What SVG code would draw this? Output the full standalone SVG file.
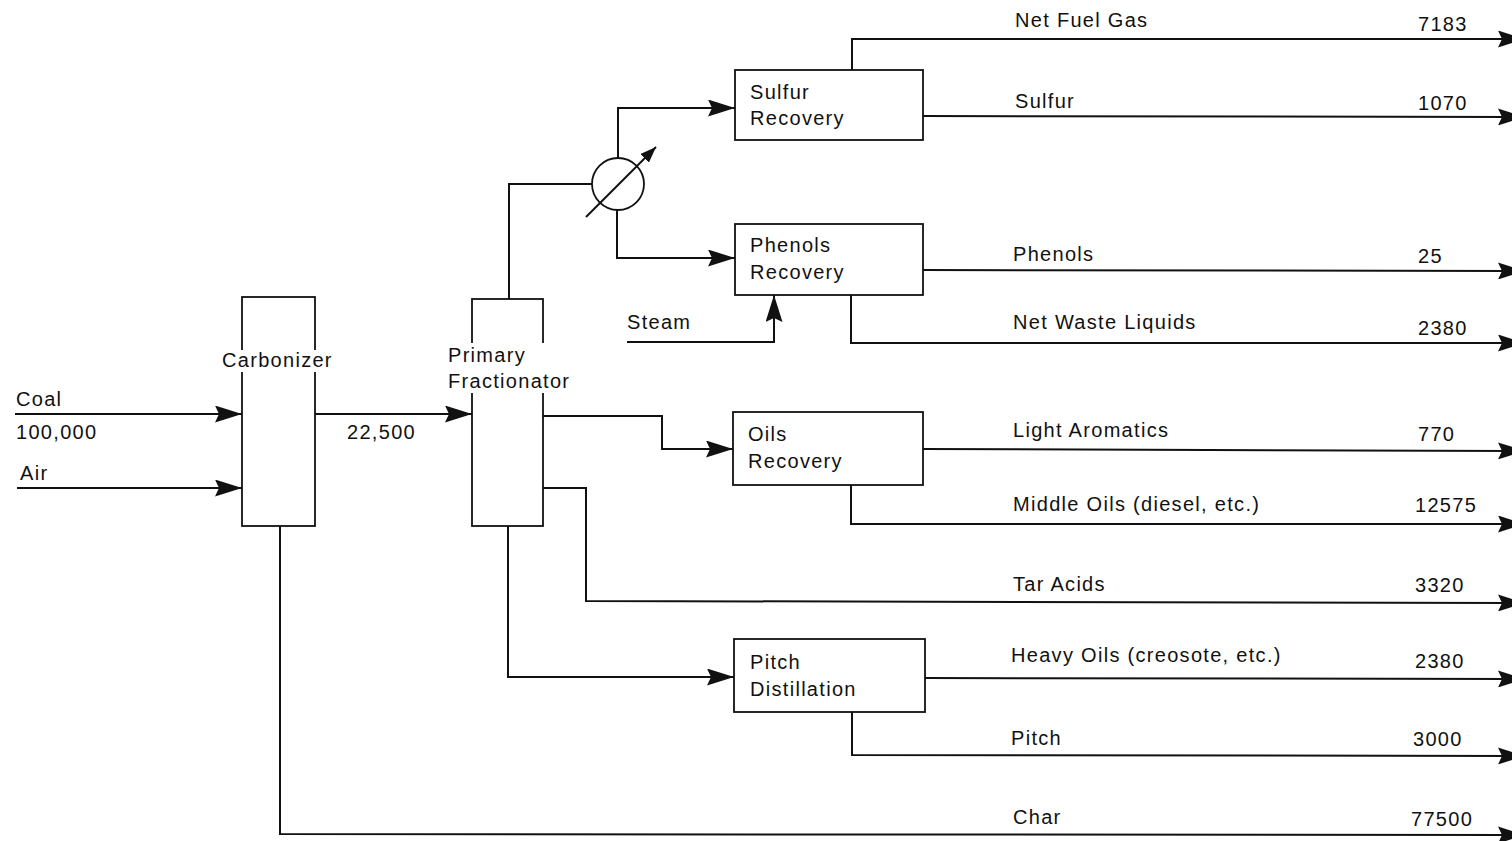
<svg xmlns="http://www.w3.org/2000/svg" width="1512" height="841" viewBox="0 0 1512 841">
<style>
  text { font-family: "Liberation Sans", Arial, Helvetica, sans-serif; font-size: 20px; letter-spacing: 1.3px; fill: #111; }
  .mask { fill: #fff; stroke: none; }
  .box { fill: none; stroke: #111; stroke-width: 1.8; }
  .ln { fill: none; stroke: #111; stroke-width: 2; }
  .arr { marker-end: url(#ah); }
</style>
<defs>
  <marker id="ah" viewBox="0 0 27 17" refX="27" refY="8.5" markerWidth="27" markerHeight="17" markerUnits="userSpaceOnUse" orient="auto">
    <path d="M0,0 L27,8.5 L0,17 L4,8.5 z" fill="#111"/>
  </marker>
  <marker id="ahs" viewBox="0 0 16 12" refX="16" refY="6" markerWidth="16" markerHeight="12" markerUnits="userSpaceOnUse" orient="auto">
    <path d="M0,0 L16,6 L0,12 z" fill="#111"/>
  </marker>
</defs>
<rect width="1512" height="841" fill="#fff"/>

<g id="connectors">
  <polyline class="ln arr" points="15,414 242,414"/>
  <polyline class="ln arr" points="17,488 242,488"/>
  <polyline class="ln arr" points="315,414 472,414"/>
  <polyline class="ln" points="509,299 509,184 592,184"/>
  <polyline class="ln arr" points="618,158 618,108 735,108"/>
  <polyline class="ln arr" points="617,210 617,258 735,258"/>
  <line class="ln" x1="586" y1="217" x2="656" y2="147" marker-end="url(#ahs)"/>
  <polyline class="ln arr" points="852,70 852,39 1525,39"/>
  <polyline class="ln arr" points="923,116 1525,117"/>
  <polyline class="ln arr" points="923,270 1525,271"/>
  <polyline class="ln arr" points="851,295 851,343 1525,343"/>
  <polyline class="ln arr" points="627,342 774,342 774,295"/>
  <polyline class="ln arr" points="543,416 662,416 662,449 733,449"/>
  <polyline class="ln arr" points="923,449 1525,451"/>
  <polyline class="ln arr" points="851,485 851,524 1525,524"/>
  <polyline class="ln arr" points="543,488 586,488 586,601 1525,603"/>
  <polyline class="ln arr" points="508,526 508,677 734,677"/>
  <polyline class="ln arr" points="925,678 1525,679"/>
  <polyline class="ln arr" points="852,712 852,755 1525,756"/>
  <polyline class="ln arr" points="280,526 280,834 1525,835"/>
</g>

<g id="carbonizer">
  <rect class="box" x="242" y="297" width="73" height="229"/>
  <rect class="mask" x="221" y="350" width="116" height="22"/>
  <text x="222" y="367">Carbonizer</text>
</g>
<g id="primary-fractionator">
  <rect class="box" x="472" y="299" width="71" height="227"/>
  <rect class="mask" x="446" y="343" width="128" height="50"/>
  <text x="448" y="362">Primary</text>
  <text x="448" y="388">Fractionator</text>
</g>
<g id="heat-exchanger">
  <circle cx="618" cy="184" r="26" fill="none" stroke="#111" stroke-width="1.8"/>
</g>
<g id="sulfur-recovery">
  <rect class="box" x="735" y="70" width="188" height="70"/>
  <text x="750" y="99">Sulfur</text>
  <text x="750" y="125">Recovery</text>
</g>
<g id="phenols-recovery">
  <rect class="box" x="735" y="224" width="188" height="71"/>
  <text x="750" y="252">Phenols</text>
  <text x="750" y="279">Recovery</text>
</g>
<g id="oils-recovery">
  <rect class="box" x="733" y="412" width="190" height="73"/>
  <text x="748" y="441">Oils</text>
  <text x="748" y="468">Recovery</text>
</g>
<g id="pitch-distillation">
  <rect class="box" x="734" y="639" width="191" height="73"/>
  <text x="750" y="669">Pitch</text>
  <text x="750" y="696">Distillation</text>
</g>

<g id="labels">
  <text x="16" y="406">Coal</text>
  <text x="16" y="439">100,000</text>
  <text x="20" y="480">Air</text>
  <text x="347" y="439">22,500</text>
  <text x="627" y="329">Steam</text>
  <text x="1015" y="27">Net Fuel Gas</text>
  <text x="1418" y="31">7183</text>
  <text x="1015" y="108">Sulfur</text>
  <text x="1418" y="110">1070</text>
  <text x="1013" y="261">Phenols</text>
  <text x="1418" y="263">25</text>
  <text x="1013" y="329">Net Waste Liquids</text>
  <text x="1418" y="335">2380</text>
  <text x="1013" y="437">Light Aromatics</text>
  <text x="1418" y="441">770</text>
  <text x="1013" y="511">Middle Oils (diesel, etc.)</text>
  <text x="1415" y="512">12575</text>
  <text x="1013" y="591">Tar Acids</text>
  <text x="1415" y="592">3320</text>
  <text x="1011" y="662">Heavy Oils (creosote, etc.)</text>
  <text x="1415" y="668">2380</text>
  <text x="1011" y="745">Pitch</text>
  <text x="1413" y="746">3000</text>
  <text x="1013" y="824">Char</text>
  <text x="1411" y="826">77500</text>
</g>
</svg>
